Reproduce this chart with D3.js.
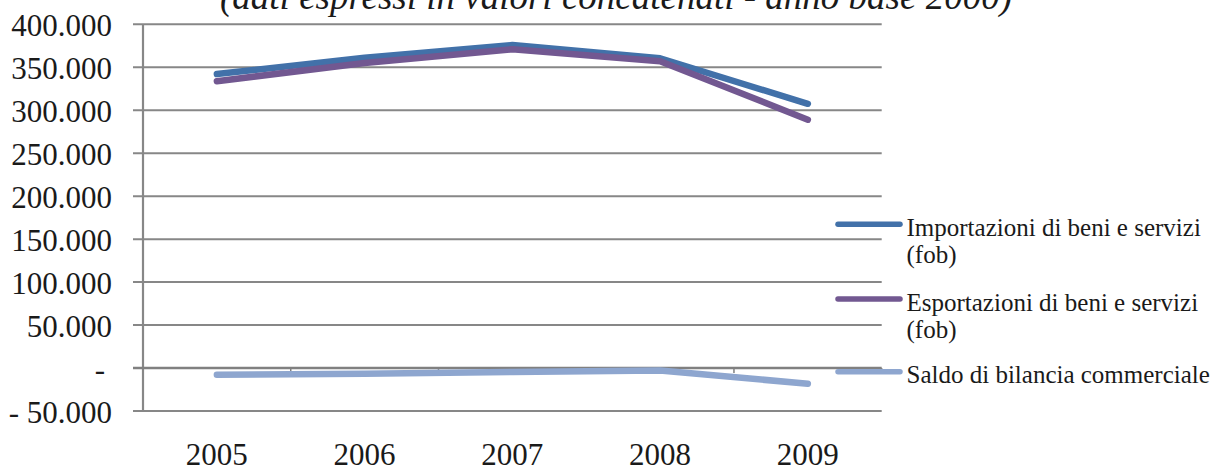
<!DOCTYPE html>
<html>
<head>
<meta charset="utf-8">
<script src="https://cdn.jsdelivr.net/npm/d3@7/dist/d3.min.js"></script>
<style>
  html, body { margin: 0; padding: 0; background: #fff; }
  svg { display: block; }
</style>
</head>
<body>
<svg id="chart" width="1215" height="471"></svg>
<script>
// Anni e serie (milioni di euro, valori concatenati, anno base 2000)
const years = ["2005", "2006", "2007", "2008", "2009"];
const importazioni = [342100, 361000, 375800, 360500, 307500];
const esportazioni = [333800, 355000, 371000, 357000, 289000];
const saldo = [-7800, -6600, -4600, -2800, -18300];

const legendLines = [
  ["Importazioni di beni e servizi", "(fob)"],
  ["Esportazioni di beni e servizi", "(fob)"],
  ["Saldo di bilancia commerciale"]
];
const seriesColors = ["#4271a9", "#725891", "#8ea6cf"];
const yTicks = [-50000, 0, 50000, 100000, 150000, 200000, 250000, 300000, 350000, 400000];
const titleText = "(dati espressi in valori concatenati - anno base 2000)";

const series = [importazioni, esportazioni, saldo];

const FONT = "'Liberation Serif', 'Times New Roman', Times, serif";
const svg = d3.select("#chart").style("font-family", FONT);

const plotLeft = 143, plotRight = 881.7;
const y = d3.scaleLinear().domain([-50000, 400000]).range([411, 24.3]);
const x = d3.scaleBand().domain(years).range([plotLeft, plotRight]).padding(0);
const cx = d => x(d) + x.bandwidth() / 2;

const grid = "#878787";
const ink = "#1a1a1a";

// Titolo (parzialmente tagliato in alto)
svg.append("text")
  .attr("x", 616)
  .attr("y", 8.5)
  .attr("text-anchor", "middle")
  .attr("fill", ink)
  .style("font-family", FONT)
  .style("font-style", "italic")
  .style("font-size", "37px")
  .text(titleText);

const fmt = v => {
  if (v === 0) return "-";
  const s = d3.format(",")(Math.abs(v)).replace(/,/g, ".");
  return v < 0 ? "- " + s : s;
};

// Griglia orizzontale con tacche a sinistra
svg.append("g")
  .selectAll("line")
  .data(yTicks.filter(v => v !== 0))
  .join("line")
  .attr("x1", 133).attr("x2", plotRight)
  .attr("y1", d => y(d)).attr("y2", d => y(d))
  .attr("stroke", grid)
  .attr("stroke-width", 2);

// Asse verticale
svg.append("line")
  .attr("x1", plotLeft).attr("x2", plotLeft)
  .attr("y1", y(400000)).attr("y2", y(-50000))
  .attr("stroke", grid)
  .attr("stroke-width", 2.2);

// Asse delle categorie sullo zero, con tacche tra gli anni
const zeroY = y(0);
svg.append("line")
  .attr("x1", 133).attr("x2", plotRight)
  .attr("y1", zeroY).attr("y2", zeroY)
  .attr("stroke", "#808080")
  .attr("stroke-width", 2.4);

const bounds = years.map(d => x(d)).concat([plotRight]);
svg.append("g")
  .selectAll("line")
  .data(bounds.slice(1))
  .join("line")
  .attr("x1", d => d).attr("x2", d => d)
  .attr("y1", zeroY).attr("y2", zeroY + 5)
  .attr("stroke", "#808080")
  .attr("stroke-width", 1.5);

// Etichette asse Y
svg.append("g")
  .selectAll("text")
  .data(yTicks)
  .join("text")
  .attr("x", d => d === 0 ? 105 : 112)
  .attr("y", d => y(d) + 11.5)
  .attr("text-anchor", "end")
  .attr("fill", ink)
  .style("font-family", FONT)
  .style("font-size", "31px")
  .text(fmt);

// Etichette asse X
svg.append("g")
  .selectAll("text")
  .data(years)
  .join("text")
  .attr("x", d => cx(d))
  .attr("y", 465)
  .attr("text-anchor", "middle")
  .attr("fill", ink)
  .style("font-family", FONT)
  .style("font-size", "31px")
  .text(d => d);

// Linee delle serie
const line = d3.line()
  .x((v, i) => cx(years[i]))
  .y(v => y(v));

svg.append("g")
  .selectAll("path")
  .data(series)
  .join("path")
  .attr("d", d => line(d))
  .attr("fill", "none")
  .attr("stroke", (d, i) => seriesColors[i])
  .attr("stroke-width", 6.5)
  .attr("stroke-linecap", "round")
  .attr("stroke-linejoin", "round");

// Legenda
const legendY = [224.3, 299, 371.7];
const lg = svg.append("g");
legendLines.forEach((lines, i) => {
  lg.append("line")
    .attr("x1", 838).attr("x2", 900)
    .attr("y1", legendY[i]).attr("y2", legendY[i])
    .attr("stroke", seriesColors[i])
    .attr("stroke-width", 5.5)
    .attr("stroke-linecap", "round");
  const t = lg.append("text")
    .attr("x", 906.5)
    .attr("y", legendY[i] + 11.5)
    .attr("fill", ink)
    .style("font-family", FONT)
    .style("font-size", "25px");
  lines.forEach((s, j) => {
    t.append("tspan")
      .attr("x", 906.5)
      .attr("dy", j === 0 ? 0 : 27)
      .text(s);
  });
});
</script>
</body>
</html>
